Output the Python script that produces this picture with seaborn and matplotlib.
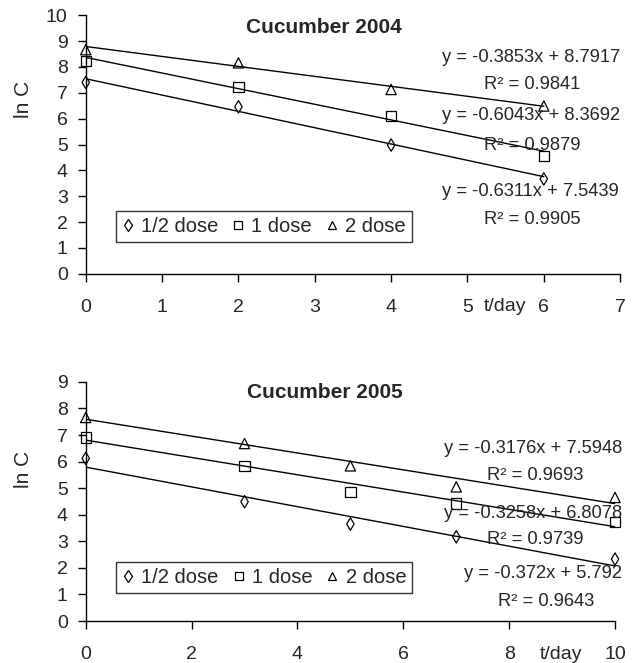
import numpy as np
import pandas as pd
import matplotlib
matplotlib.use("Agg")
import matplotlib.pyplot as plt
from matplotlib.lines import Line2D
import seaborn as sns

sns.set_theme(style="ticks")
plt.rcParams["font.family"] = ["Liberation Sans", "DejaVu Sans"]

doses = ["1/2 dose", "1 dose", "2 dose"]

# Cucumber 2004: ln C residues per sampling day
days_2004 = [0, 2, 4, 6]
half_2004 = [7.40, 6.46, 4.98, 3.67]
one_2004 = [8.22, 7.23, 6.10, 4.57]
two_2004 = [8.67, 8.16, 7.13, 6.49]
slopes_2004 = [-0.6311, -0.6043, -0.3853]
intercepts_2004 = [7.5439, 8.3692, 8.7917]
r2_2004 = [0.9905, 0.9879, 0.9841]

# Cucumber 2005
days_2005 = [0, 3, 5, 7, 10]
half_2005 = [6.12, 4.49, 3.65, 3.17, 2.33]
one_2005 = [6.91, 5.84, 4.86, 4.42, 3.73]
two_2005 = [7.66, 6.68, 5.84, 5.05, 4.65]
slopes_2005 = [-0.372, -0.3258, -0.3176]
intercepts_2005 = [5.792, 6.8078, 7.5948]
r2_2005 = [0.9643, 0.9739, 0.9693]

markers = {"1/2 dose": "d", "1 dose": "s", "2 dose": "^"}
msizes = {"1/2 dose": 40, "1 dose": 55, "2 dose": 55}
FS_TICK = 14
FS_EQ = 13.2
FS_LEG = 14.5
FS_TITLE = 15
FS_YLAB = 15


def long_frame(days, series):
    rows = []
    for dose, vals in zip(doses, series):
        for d, v in zip(days, vals):
            rows.append({"day": d, "lnC": v, "dose": dose})
    return pd.DataFrame(rows)


def panel(ax, days, series, slopes, intercepts, r2s, title, title_x, xmax,
          ymax, xticks, eq_pos, tday_x, ylabel_xy, legend_anchor):
    df = long_frame(days, series)
    for dose in doses:
        sub = df[df["dose"] == dose]
        sns.scatterplot(data=sub, x="day", y="lnC", marker=markers[dose],
                        s=msizes[dose], facecolor="none", edgecolor="black",
                        linewidth=0.9, ax=ax, zorder=3, legend=False,
                        clip_on=False)
    # fitted first-order trend lines over the sampled range
    for dose, k, b in zip(doses, slopes, intercepts):
        xs = np.array([min(days), max(days)], dtype=float)
        sns.lineplot(x=xs, y=k * xs + b, color="black", linewidth=1.0,
                     ax=ax, zorder=2)
    # regression equations
    for (k, b, r2), (ex, ey, rx, ry) in zip(zip(slopes, intercepts, r2s), eq_pos):
        ax.text(ex, ey, f"y = {k}x + {b}", ha="center", va="center",
                fontsize=FS_EQ)
        ax.text(rx, ry, f"R\u00b2 = {r2}", ha="center", va="center",
                fontsize=FS_EQ)

    ax.set_xlim(0, xmax)
    ax.set_ylim(0, ymax)
    ax.set_xticks(xticks)
    ax.set_yticks(range(0, ymax + 1))
    ax.set_xlabel("")
    ax.set_ylabel("ln C", fontsize=FS_YLAB)
    ax.yaxis.set_label_coords(*ylabel_xy)
    ax.text(title_x, 0.954, title, transform=ax.transAxes, ha="center",
            va="center", fontsize=FS_TITLE, fontweight="bold")
    ax.tick_params(axis="both", direction="out", length=6, width=1.0,
                   labelsize=FS_TICK, color="black")
    ax.tick_params(axis="x", pad=12)
    ax.tick_params(axis="y", pad=7)
    for side in ["top", "right"]:
        ax.spines[side].set_visible(False)
    for side in ["left", "bottom"]:
        ax.spines[side].set_color("black")
        ax.spines[side].set_linewidth(1.0)
    ax.annotate("t/day", xy=(tday_x, 0), xycoords=("data", "axes fraction"),
                xytext=(0, -33), textcoords="offset pixels", ha="center",
                va="center", fontsize=FS_TICK)

    handles = [Line2D([], [], marker=markers[d], linestyle="none",
                      markerfacecolor="none", markeredgecolor="black",
                      markeredgewidth=0.9,
                      markersize=5.5 if d != "1/2 dose" else 6,
                      label=d) for d in doses]
    leg = ax.legend(handles=handles, ncol=3, loc="lower left",
                    bbox_to_anchor=legend_anchor, borderaxespad=0,
                    fontsize=FS_LEG, frameon=True, fancybox=False,
                    handlelength=0.6, handletextpad=0.35, columnspacing=0.7,
                    borderpad=0.3)
    leg.get_frame().set_edgecolor("black")
    leg.get_frame().set_linewidth(1.0)


fig = plt.figure(figsize=(6.4, 6.63), dpi=100)
ax1 = fig.add_axes([0.134, 0.587, 0.835, 0.390])
ax2 = fig.add_axes([0.134, 0.0633, 0.827, 0.3607])

panel(ax1, days_2004, [half_2004, one_2004, two_2004], slopes_2004,
      intercepts_2004, r2_2004, "Cucumber 2004", 0.446, 7, 10, range(0, 8),
      [(5.83, 3.20, 5.85, 2.12), (5.83, 6.14, 5.85, 4.98),
       (5.83, 8.38, 5.85, 7.34)],
      5.49, (-0.099, 0.676), (0.056, 0.124))

panel(ax2, days_2005, [half_2005, one_2005, two_2005], slopes_2005,
      intercepts_2005, r2_2005, "Cucumber 2005", 0.452, 10, 9, range(0, 11, 2),
      [(8.64, 1.80, 8.70, 0.75), (8.45, 4.06, 8.50, 3.05),
       (8.45, 6.50, 8.49, 5.49)],
      8.98, (-0.100, 0.632), (0.057, 0.117))

fig.savefig("out.png", dpi=100, facecolor="white")
